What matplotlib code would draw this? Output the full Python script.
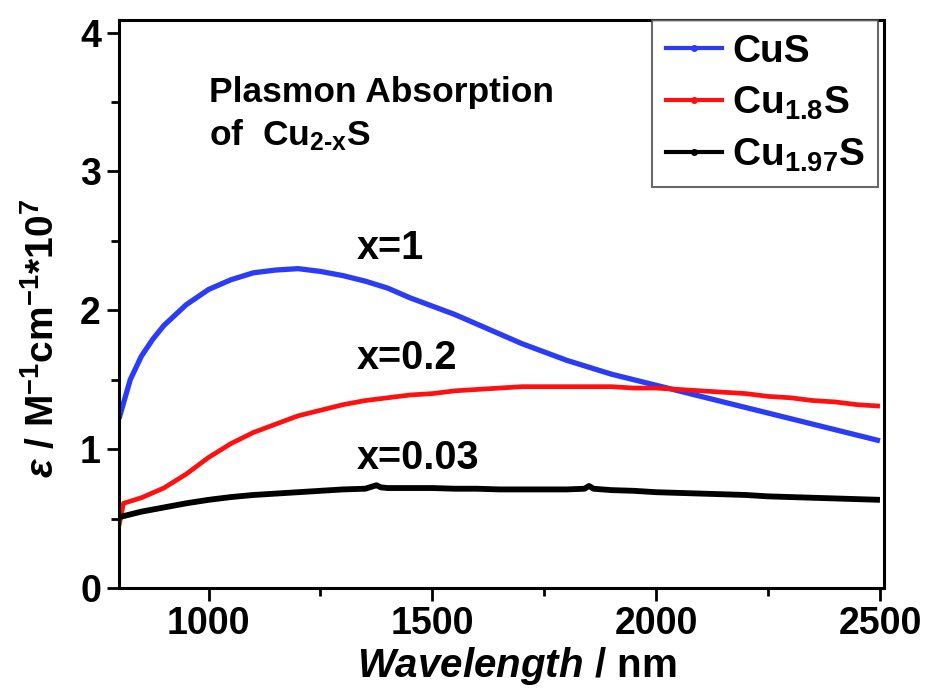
import matplotlib
matplotlib.use("Agg")
import matplotlib.pyplot as plt
from matplotlib.lines import Line2D

plt.rcParams['font.family'] = ['Liberation Sans', 'DejaVu Sans']
plt.rcParams['font.weight'] = 'bold'
plt.rcParams['axes.labelweight'] = 'bold'
plt.rcParams['mathtext.fontset'] = 'custom'
plt.rcParams['mathtext.rm'] = 'Liberation Sans:bold'
plt.rcParams['mathtext.it'] = 'Liberation Sans:bold:italic'
plt.rcParams['mathtext.bf'] = 'Liberation Sans:bold'
plt.rcParams['mathtext.default'] = 'rm'

# extinction spectra, eps / 1e7 M^-1 cm^-1
wl_cus = [800, 825, 850, 875, 900, 950, 1000, 1050, 1100, 1150, 1200, 1250, 1300,
          1350, 1400, 1450, 1500, 1550, 1600, 1650, 1700, 1750, 1800, 1850, 1900,
          1950, 2000, 2050, 2100, 2150, 2200, 2250, 2300, 2350, 2400, 2450, 2500]
eps_cus = [1.22, 1.50, 1.67, 1.79, 1.89, 2.04, 2.15, 2.22, 2.27, 2.29, 2.30, 2.28, 2.25,
           2.21, 2.16, 2.09, 2.03, 1.97, 1.90, 1.83, 1.76, 1.70, 1.64, 1.59, 1.54,
           1.50, 1.46, 1.42, 1.38, 1.34, 1.30, 1.26, 1.22, 1.18, 1.14, 1.10, 1.06]

wl_cu18 = [800, 810, 850, 900, 950, 1000, 1050, 1100, 1150, 1200, 1250, 1300, 1350,
           1400, 1450, 1500, 1550, 1600, 1650, 1700, 1750, 1800, 1850, 1900, 1950,
           2000, 2050, 2100, 2150, 2200, 2250, 2300, 2350, 2400, 2450, 2500]
eps_cu18 = [0.45, 0.61, 0.65, 0.72, 0.82, 0.94, 1.04, 1.12, 1.18, 1.24, 1.28, 1.32, 1.35,
            1.37, 1.39, 1.40, 1.42, 1.43, 1.44, 1.45, 1.45, 1.45, 1.45, 1.45, 1.44,
            1.44, 1.43, 1.42, 1.41, 1.40, 1.38, 1.37, 1.35, 1.34, 1.32, 1.31]

wl_cu197 = [800, 850, 900, 950, 1000, 1050, 1100, 1150, 1200, 1250, 1300, 1350, 1365,
            1375, 1385, 1400, 1450, 1500, 1550, 1600, 1650, 1700, 1750, 1800, 1840,
            1850, 1860, 1900, 1950, 2000, 2050, 2100, 2150, 2200, 2250, 2300, 2350,
            2400, 2450, 2500]
eps_cu197 = [0.51, 0.55, 0.58, 0.61, 0.635, 0.655, 0.67, 0.68, 0.69, 0.70, 0.71, 0.715, 0.73,
             0.74, 0.725, 0.72, 0.72, 0.72, 0.715, 0.715, 0.71, 0.71, 0.71, 0.71, 0.715,
             0.735, 0.715, 0.705, 0.70, 0.69, 0.685, 0.68, 0.675, 0.67, 0.66, 0.655, 0.65,
             0.645, 0.64, 0.635]

labels = ['CuS', 'Cu$_{1.8}$S', 'Cu$_{1.97}$S']
colors = ['#2b3cf8', '#ff1010', '#000000']
x_labels = ['x=1', 'x=0.2', 'x=0.03']
x_label_y = [2.45, 1.66, 0.935]

fig = plt.figure(figsize=(9.3, 6.93), dpi=100)
ax = fig.add_axes([0.128, 0.1515, 0.823, 0.8195])

ax.plot(wl_cus, eps_cus, color=colors[0], lw=3.8, solid_capstyle='butt')
ax.plot(wl_cu18, eps_cu18, color=colors[1], lw=3.4, solid_capstyle='butt')
ax.plot(wl_cu197, eps_cu197, color=colors[2], lw=4.2, solid_capstyle='butt')

ax.set_xlim(800, 2510)
ax.set_ylim(0, 4.09)
ax.set_xticks([1000, 1500, 2000, 2500])
ax.set_xticks([1250, 1750, 2250], minor=True)
ax.set_yticks([0, 1, 2, 3, 4])
ax.set_yticks([0.5, 1.5, 2.5, 3.5], minor=True)
ax.tick_params(which='both', direction='out', width=2, labelsize=27, pad=4)
ax.tick_params(which='major', length=9)
ax.tick_params(which='minor', length=6)
for s in ax.spines.values():
    s.set_linewidth(2.2)

ax.set_xlabel('$\\mathit{Wavelength}$ / nm', fontsize=29)
ax.xaxis.set_label_coords(0.52, -0.1)
ax.set_ylabel('$\\mathit{ε}$ / M$^{-1}$cm$^{-1}$*10$^{7}$', fontsize=28)
ax.yaxis.set_label_coords(-0.075, 0.44)

ax.text(1000, 3.57, 'Plasmon Absorption', fontsize=25.5, va='center')
ax.text(1000, 3.26, 'of  Cu$_{2\\text{-}x}$S', fontsize=25.5, va='center')

for t, yv in zip(x_labels, x_label_y):
    ax.text(1332, yv, t, fontsize=28.5, va='center')

handles = [Line2D([], [], color=c, lw=3, marker='o', markersize=4) for c in colors]
leg = ax.legend(handles, labels, loc='upper right', bbox_to_anchor=(0.992, 1.0),
                borderaxespad=0, fontsize=28, frameon=True, fancybox=False,
                handlelength=1.45, handletextpad=0.25, labelspacing=0.38,
                borderpad=0.35)
leg.get_frame().set_edgecolor('#444444')
leg.get_frame().set_linewidth(1.5)

fig.savefig('out.png', dpi=100)
